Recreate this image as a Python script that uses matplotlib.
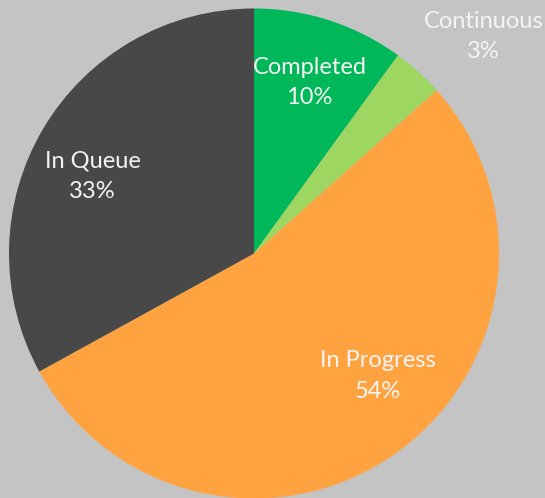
import numpy as np
import matplotlib.pyplot as plt

# pie data, clockwise from 12 o'clock
categories = ["Completed", "Continuous", "In Progress", "In Queue"]
shares = [10, 3.4, 53.6, 33]
pct_labels = ["10%", "3%", "54%", "33%"]
colors = ["#00B75A", "#9DD761", "#FFA340", "#484848"]

# where each label sits: (distance as fraction of radius, angle nudge in degrees)
label_place = [(0.735, 0), (1.29, -4.5), (0.71, 10), (0.73, 5)]

W, H = 545, 498
fig = plt.figure(figsize=(W / 100, H / 100), dpi=100, facecolor="#C4C4C4")
ax = fig.add_axes([0, 0, 1, 1])
ax.set_facecolor("#C4C4C4")

cx, cy, r = 254, H - 253.5, 245
wedges, _ = ax.pie(shares, colors=colors, startangle=90, counterclock=False,
                   center=(cx, cy), radius=r,
                   wedgeprops=dict(linewidth=0))

for w, name, pct, (frac, nudge) in zip(wedges, categories, pct_labels, label_place):
    mid = np.deg2rad((w.theta1 + w.theta2) / 2 + nudge)
    x = cx + frac * r * np.cos(mid)
    y = cy + frac * r * np.sin(mid)
    ax.text(x, y, f"{name}\n{pct}", ha="center", va="center",
            color="#F4F4F4", fontsize=17, family="Lato", linespacing=1.55)

ax.set_xlim(0, W)
ax.set_ylim(0, H)
ax.set_aspect("equal")
ax.axis("off")

plt.savefig("out.png", dpi=100, facecolor=fig.get_facecolor())
plt.close()
